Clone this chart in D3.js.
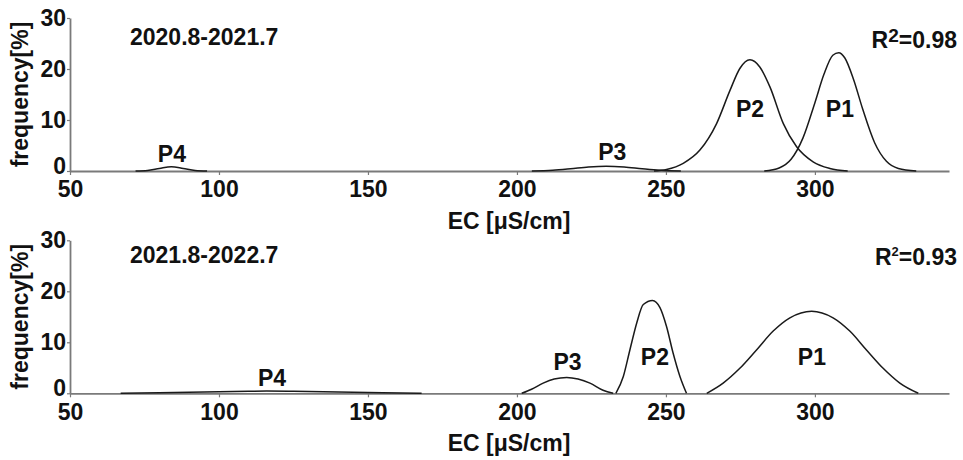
<!DOCTYPE html>
<html>
<head>
<meta charset="utf-8">
<script src="https://cdn.jsdelivr.net/npm/d3@7"></script>
<style>
  body { margin: 0; background: #fff; }
  text { font-family: "Liberation Sans", Arial, sans-serif; font-weight: bold; fill: #111; }
</style>
</head>
<body>
<script>
// data: [EC, frequency %]
const ecTicks = [50, 100, 150, 200, 250, 300];
const freqTicks = [0, 10, 20, 30];
const periods = ["2020.8-2021.7", "2021.8-2022.7"];
const r2Values = ["0.98", "0.93"];
const peakNames = ["P1", "P2", "P3", "P4"];

// 2020.8-2021.7
const p1Top = [[283,0],[288,0.6],[292,2.3],[296,6.5],[300,13.4],[303,18.9],[306,22.7],[308,23.2],[310,22.2],[313,17.9],[316,12.2],[320,5.6],[324,1.9],[328,0.5],[334,0]];
const p2Top = [[246,0],[250.2,0.3],[255.8,1.5],[261.4,4.1],[267,9.3],[271.5,15.8],[274.8,20.1],[278.2,21.8],[281.5,20.4],[284.9,16.5],[289.4,9.3],[293.8,4.8],[299.4,1.8],[305,0.5],[311,0]];
const p3Top = [[205,0],[212,0.15],[218,0.45],[224,0.8],[230,0.95],[236,0.8],[242,0.45],[248,0.15],[255,0]];
const p4Top = [[72,0],[76,0.1],[80,0.5],[84,0.85],[88,0.5],[92,0.1],[96,0]];
// label anchors (EC, frequency) for P1..P4
const labelsTop = [[308.4,10.5],[278.2,10.5],[232,2.1],[84.2,1.8]];

// 2021.8-2022.7
const p1Bottom = [[263.7,0],[269.2,2.0],[274.8,4.9],[280.4,8.5],[286,12.2],[291.6,14.8],[298.9,16.1],[306.1,14.8],[311.7,12.2],[317.3,8.5],[322.9,4.9],[328.5,2.0],[334.7,0]];
const p2Bottom = [[233.2,0],[235.7,3.3],[237.9,8.5],[240.2,13.8],[242.4,17.4],[245.5,18.2],[248,16.8],[250.2,13.1],[252.4,7.9],[254.7,3.3],[256.9,0]];
const p3Bottom = [[201.6,0],[204.9,0.8],[208.8,2.0],[212.5,2.8],[216.7,3.1],[220.5,2.8],[224.5,2.0],[228.9,0.6],[232.3,0]];
const p4Bottom = [[67,0],[80,0.1],[95,0.25],[110,0.4],[116,0.45],[125,0.4],[140,0.25],[155,0.1],[168,0]];
const labelsBottom = [[299,5.6],[246.3,5.6],[217,4.6],[117.8,1.44]];

const panels = [
  {curves: [p1Top, p2Top, p3Top, p4Top], labels: labelsTop},
  {curves: [p1Bottom, p2Bottom, p3Bottom, p4Bottom], labels: labelsBottom}
];

const w = 963, h = 460;
const zeroY = [171, 393.3];
const panelH = 153;
const titleY = [45, 263];
const r2Y = [48, 265];
const fs = 23;

const svg = d3.select("body").append("svg")
  .attr("width", w)
  .attr("height", h);

const x = d3.scaleLinear().domain([50, 345]).range([70, 949]);

panels.forEach((p, i) => {
  const y = d3.scaleLinear().domain([0, 30]).range([zeroY[i], zeroY[i] - panelH]);
  const g = svg.append("g");

  const xAxis = g.append("g")
    .attr("transform", `translate(0,${zeroY[i]})`)
    .call(d3.axisBottom(x).tickValues(ecTicks).tickSize(4).tickSizeOuter(0).tickPadding(6));

  const yAxis = g.append("g")
    .attr("transform", `translate(${x(50)},0)`)
    .call(d3.axisLeft(y).tickValues(freqTicks).tickSize(3).tickSizeOuter(0).tickPadding(1));

  [xAxis, yAxis].forEach(a => {
    a.attr("font-size", null).attr("font-family", null);
    a.select(".domain").attr("stroke", "#7a7a7a").attr("stroke-width", 1.8);
    a.selectAll(".tick line").attr("stroke", "#7a7a7a").attr("stroke-width", 1.2);
    a.selectAll(".tick text").style("font-size", fs + "px").attr("fill", "#111");
  });
  // the "0" sits just above the "50" corner label, as in the original
  yAxis.selectAll(".tick text").filter(d => d === 0).attr("dy", "0.1em");

  const line = d3.line()
    .x(d => x(d[0]))
    .y(d => y(d[1]))
    .curve(d3.curveMonotoneX);

  g.selectAll("path.peak")
    .data(p.curves)
    .join("path")
    .attr("class", "peak")
    .attr("d", line)
    .attr("fill", "none")
    .attr("stroke", "#1a1a1a")
    .attr("stroke-width", 1.5);

  g.selectAll("text.plabel")
    .data(p.labels)
    .join("text")
    .attr("class", "plabel")
    .attr("x", d => x(d[0]))
    .attr("y", d => y(d[1]))
    .attr("text-anchor", "middle")
    .style("font-size", fs + "px")
    .text((d, k) => peakNames[k]);

  g.append("text")
    .attr("x", 130)
    .attr("y", titleY[i])
    .style("font-size", fs + "px")
    .text(periods[i]);

  const r2 = g.append("text")
    .attr("x", 957)
    .attr("y", r2Y[i])
    .attr("text-anchor", "end")
    .style("font-size", fs + "px");
  r2.append("tspan").text("R");
  if (i === 0) {
    r2.append("tspan").attr("dy", -6).style("font-size", "19px").text("2");
    r2.append("tspan").attr("dy", 6).text("=" + r2Values[i]);
  } else {
    r2.append("tspan").attr("dy", -9).style("font-size", "13px").text("2");
    r2.append("tspan").attr("dy", 9).text("=" + r2Values[i]);
  }

  g.append("text")
    .attr("x", 509)
    .attr("y", zeroY[i] + 58)
    .attr("text-anchor", "middle")
    .style("font-size", fs + "px")
    .text("EC [μS/cm]");

  g.append("text")
    .attr("transform", `translate(28,${zeroY[i] - panelH / 2}) rotate(-90)`)
    .attr("text-anchor", "middle")
    .style("font-size", fs + "px")
    .text("frequency[%]");
});
</script>
</body>
</html>
